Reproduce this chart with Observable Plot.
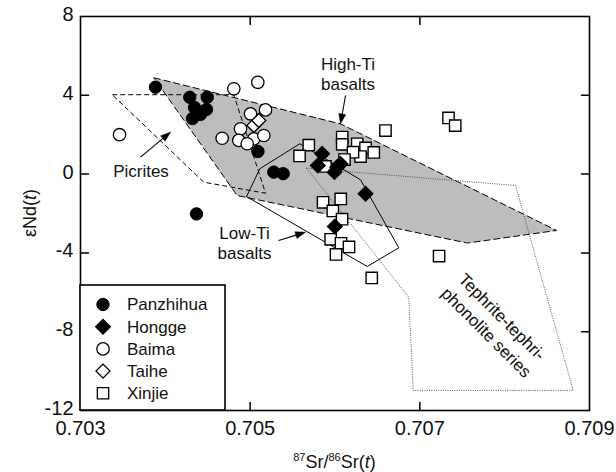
<!DOCTYPE html>
<html>
<head>
<meta charset="utf-8">
<script src="https://cdn.jsdelivr.net/npm/d3@7"></script>
<script src="https://cdn.jsdelivr.net/npm/@observablehq/plot@0.6"></script>
<style>
  html, body { margin: 0; padding: 0; background: #fff; }
  #chart { width: 616px; height: 472px; }
</style>
</head>
<body>
<div id="chart"></div>
<script>
// ---------- data ----------
const xDomain = [0.703, 0.709];
const yDomain = [-12, 8];
const xTickLabels = [0.703, 0.705, 0.707, 0.709];
const xTickMarks = [0.705, 0.707];
const yTickLabels = [-12, -8, -4, 0, 4, 8];
const yTickMarks = [-8, -4, 0, 4];

const panzhihua = [
  [0.703884, 4.41], [0.704288, 3.90], [0.704494, 3.90], [0.704344, 3.38],
  [0.704485, 3.28], [0.704320, 2.82], [0.704415, 3.03], [0.705092, 1.15],
  [0.705279, 0.10], [0.705389, 0.02], [0.704367, -2.02]
];
const baima = [
  [0.703460, 2.00], [0.704807, 4.33], [0.705090, 4.66], [0.705004, 3.06],
  [0.705181, 3.26], [0.704886, 2.30], [0.704670, 1.82], [0.704866, 1.71],
  [0.705043, 1.79], [0.705161, 1.96], [0.704965, 1.54]
];
const taihe = [
  [0.705043, 2.47], [0.705102, 2.72]
];
const hongge = [
  [0.705849, 1.03], [0.705797, 0.44], [0.706026, 0.35], [0.705994, 0.10],
  [0.706065, 0.52], [0.706360, -1.00], [0.705998, -2.66]
];
const xinjie = [
  [0.707338, 2.85], [0.707417, 2.46], [0.706595, 2.21], [0.705691, 1.47],
  [0.705582, 0.92], [0.706085, 1.88], [0.706085, 1.51], [0.706262, 1.54],
  [0.706360, 1.33], [0.706457, 1.10], [0.706301, 0.89], [0.706212, 1.11],
  [0.706112, 0.74], [0.705888, 0.39], [0.705859, -1.43], [0.706068, -1.26],
  [0.705974, -1.87], [0.706083, -2.29], [0.705949, -3.31], [0.706071, -3.51],
  [0.706165, -3.70], [0.706012, -4.08], [0.707227, -4.16], [0.706433, -5.27]
];

// field outlines
const highTiField = [
  [0.703864, 4.89], [0.706065, 2.55], [0.708611, -2.86], [0.707562, -3.50], [0.704847, -1.09]
];
const picriteField = [
  [0.703374, 4.03], [0.704807, 4.03], [0.705181, -0.97], [0.704453, -0.41]
];
const lowTiField = [
  [0.704957, -1.14], [0.705114, 0.27], [0.705585, 1.54], [0.706085, 0.27],
  [0.706301, -0.29], [0.706752, -3.74], [0.706380, -4.69]
];
const tephriteField = [
  [0.705664, 0.30], [0.708128, -0.58], [0.708808, -10.98], [0.706922, -10.98], [0.706870, -6.25]
];

// annotations
const labels = [
  {text: "High-Ti\nbasalts", x: 0.706153, y: 5.09, rotate: 0, lh: 1.18},
  {text: "Picrites", x: 0.703713, y: 0.18, rotate: 0, lh: 1.18},
  {text: "Low-Ti\nbasalts", x: 0.704933, y: -3.46, rotate: 0, lh: 1.18},
  {text: "Tephrite-tephri-\nphonolite series", x: 0.707887, y: -7.60, rotate: 45, lh: 1.3}
];
const arrows = [
  {from: [0.706124, 3.99], to: [0.706065, 2.55]},
  {from: [0.703707, 0.86], to: [0.704061, 2.13]},
  {from: [0.705334, -3.37], to: [0.705652, -2.95]}
];

const legendNames = ["Panzhihua", "Hongge", "Baima", "Taihe", "Xinjie"];

// ---------- layout ----------
const W = 616, H = 472;
const mL = 80, mR = 27, mT = 16, mB = 62;
const FONT = "'Liberation Sans', Arial, Helvetica, sans-serif";

const sx = d3.scaleLinear(xDomain, [mL, W - mR]);
const sy = d3.scaleLinear(yDomain, [H - mB, mT]);

const close = (pts) => [...pts, pts[0]];

// arrow shafts and heads derived from arrow data
const shafts = [];
const heads = [];
arrows.forEach((a, i) => {
  const x1 = sx(a.from[0]), y1 = sy(a.from[1]);
  const x2 = sx(a.to[0]), y2 = sy(a.to[1]);
  const len = Math.hypot(x2 - x1, y2 - y1);
  const ux = (x2 - x1) / len, uy = (y2 - y1) / len;
  const L = 10, w = 7;
  const bx = x2 - ux * L, by = y2 - uy * L;
  const nx = -uy, ny = ux;
  shafts.push({x1: a.from[0], y1: a.from[1], x2: sx.invert(bx + ux), y2: sy.invert(by + uy)});
  [[x2, y2], [bx + nx * w / 2, by + ny * w / 2], [bx - nx * w / 2, by - ny * w / 2], [x2, y2]]
    .forEach(([px, py]) => heads.push({id: i, x: sx.invert(px), y: sy.invert(py)}));
});

const lineShape = {draw(context, l) { context.moveTo(0, 0); context.lineTo(0, -l); }};
const X = d => d[0], Y = d => d[1];

const plot = Plot.plot({
  width: W, height: H,
  marginLeft: mL, marginRight: mR, marginTop: mT, marginBottom: mB,
  x: {domain: xDomain},
  y: {domain: yDomain},
  style: {fontFamily: FONT, background: "white", color: "black", overflow: "visible"},
  marks: [
    Plot.line(close(highTiField), {x: X, y: Y, fill: "#bdbdc0", stroke: "black", strokeWidth: 1, strokeDasharray: "7,3", strokeLinecap: "butt"}),
    Plot.line(close(picriteField), {x: X, y: Y, stroke: "black", strokeWidth: 1, strokeDasharray: "5,3", strokeLinecap: "butt"}),
    Plot.line(close(tephriteField), {x: X, y: Y, stroke: "#444", strokeWidth: 0.9, strokeDasharray: "1,1.3", strokeLinecap: "butt"}),
    Plot.line(close(lowTiField), {x: X, y: Y, stroke: "black", strokeWidth: 1}),

    Plot.dot(baima, {x: X, y: Y, symbol: "circle", r: 6.2, fill: "white", stroke: "black", strokeWidth: 1.3}),
    Plot.dot(taihe, {x: X, y: Y, symbol: "square", rotate: 45, r: 5.6, fill: "white", stroke: "black", strokeWidth: 1.3}),
    Plot.dot(panzhihua, {x: X, y: Y, symbol: "circle", r: 6.2, fill: "black", stroke: "black", strokeWidth: 1}),
    Plot.dot(xinjie, {x: X, y: Y, symbol: "square", r: 6.4, fill: "white", stroke: "black", strokeWidth: 1.4}),
    Plot.dot(hongge, {x: X, y: Y, symbol: "square", rotate: 45, r: 6, fill: "black", stroke: "black", strokeWidth: 1}),

    Plot.link(shafts, {x1: "x1", y1: "y1", x2: "x2", y2: "y2", stroke: "black", strokeWidth: 1.1}),
    Plot.line(heads, {x: "x", y: "y", z: "id", fill: "black", stroke: "black", strokeWidth: 0.5}),

    ...labels.map(l => Plot.text([l], {x: "x", y: "y", text: "text", rotate: l.rotate, lineHeight: l.lh,
      fontSize: 17, fill: "#111", textAnchor: "middle", lineAnchor: "middle"})),

    // tick labels
    Plot.axisX({ticks: xTickLabels, tickSize: 0, tickPadding: 10, fontSize: 20, label: null,
      tickFormat: d => d.toFixed(3), fill: "#111"}),
    Plot.axisY({ticks: yTickLabels, tickSize: 0, tickPadding: 7, fontSize: 20, label: null,
      tickFormat: d => `${d}`, fill: "#111", dy: -2}),

    // inward tick marks
    Plot.vector(xTickMarks, {x: d => d, frameAnchor: "bottom", rotate: 0, length: 8, anchor: "start", shape: lineShape, strokeWidth: 1.5}),
    Plot.vector(xTickMarks, {x: d => d, frameAnchor: "top", rotate: 180, length: 8, anchor: "start", shape: lineShape, strokeWidth: 1.5}),
    Plot.vector(yTickMarks, {y: d => d, frameAnchor: "left", rotate: 90, length: 8, anchor: "start", shape: lineShape, strokeWidth: 1.5}),
    Plot.vector(yTickMarks, {y: d => d, frameAnchor: "right", rotate: -90, length: 8, anchor: "start", shape: lineShape, strokeWidth: 1.5}),

    Plot.frame({stroke: "black", strokeWidth: 1.6})
  ]
});

document.getElementById("chart").appendChild(plot);

// ---------- axis titles and legend ----------
const svg = d3.select(plot);

const xt = svg.append("text")
  .attr("x", (mL + W - mR) / 2).attr("y", 468)
  .attr("text-anchor", "middle").attr("font-size", 18).attr("fill", "#111")
  .attr("font-family", FONT);
xt.append("tspan").attr("font-size", 11).attr("dy", -7).text("87");
xt.append("tspan").attr("dy", 7).text("Sr/");
xt.append("tspan").attr("font-size", 11).attr("dy", -7).text("86");
xt.append("tspan").attr("dy", 7).text("Sr(");
xt.append("tspan").attr("font-style", "italic").text("t");
xt.append("tspan").text(")");

const yt = svg.append("text")
  .attr("transform", `translate(30,${(mT + H - mB) / 2}) rotate(-90)`)
  .attr("text-anchor", "middle").attr("dy", "0.35em").attr("font-size", 18).attr("fill", "#111")
  .attr("font-family", FONT);
yt.append("tspan").text("εNd(");
yt.append("tspan").attr("font-style", "italic").text("t");
yt.append("tspan").text(")");

// legend box inside the plot's lower-left corner
const lg = svg.append("g");
const boxX = mL, boxY = 285, boxW = 145, boxH = (H - mB) - 285;
lg.append("rect").attr("x", boxX).attr("y", boxY).attr("width", boxW).attr("height", boxH)
  .attr("fill", "white").attr("stroke", "black").attr("stroke-width", 1.6);

const legendStyles = {
  Panzhihua: {sym: d3.symbolCircle, r: 6.2, fill: "black", rot: 0},
  Hongge: {sym: d3.symbolSquare, r: 6, fill: "black", rot: 45},
  Baima: {sym: d3.symbolCircle, r: 6.2, fill: "white", rot: 0},
  Taihe: {sym: d3.symbolSquare, r: 5.6, fill: "white", rot: 45},
  Xinjie: {sym: d3.symbolSquare, r: 6.4, fill: "white", rot: 0}
};
legendNames.forEach((name, i) => {
  const s = legendStyles[name];
  const cy = 304.5 + i * 22.2;
  lg.append("path")
    .attr("d", d3.symbol(s.sym, Math.PI * s.r * s.r)())
    .attr("transform", `translate(103,${cy}) rotate(${s.rot})`)
    .attr("fill", s.fill).attr("stroke", "black").attr("stroke-width", s.fill === "white" ? 1.3 : 1);
  lg.append("text").attr("x", 127).attr("y", cy).attr("dy", "0.35em")
    .attr("text-anchor", "start")
    .attr("font-size", 17).attr("fill", "#111").attr("font-family", FONT).text(name);
});
</script>
</body>
</html>
